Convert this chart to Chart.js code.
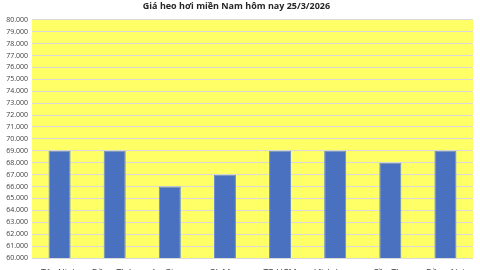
<!DOCTYPE html>
<html>
<head>
<meta charset="utf-8">
<script src="https://cdn.jsdelivr.net/npm/chart.js@4.4.1/dist/chart.umd.min.js"></script>
<style>
    html, body { margin: 0; padding: 0; background: #fff; }
    #wrap { width: 480px; height: 270px; }
</style>
</head>
<body>
<div id="wrap"><canvas id="price-chart" width="480" height="270"></canvas></div>
<script>
const chartTitle = 'Giá heo hơi miền Nam hôm nay 25/3/2026';
const provinces = ['Tây Ninh', 'Đồng Tháp', 'An Giang', 'Cà Mau', 'TP HCM', 'Vĩnh Long', 'Cần Thơ', 'Đồng Nai'];
const prices = [69000, 69000, 66000, 67000, 69000, 69000, 68000, 69000];
const yMin = 60000;
const yMax = 80000;
const yStep = 1000;

// nền vàng cho vùng vẽ
const plotBackground = {
    id: 'plotBackground',
    beforeDraw(chart) {
        const { ctx, chartArea } = chart;
        ctx.save();
        ctx.fillStyle = '#ffff66';
        ctx.fillRect(chartArea.left, chartArea.top, chartArea.right - chartArea.left, chartArea.bottom - chartArea.top);
        ctx.restore();
    }
};

const ctx = document.getElementById('price-chart').getContext('2d');
new Chart(ctx, {
    type: 'bar',
    data: {
        labels: provinces,
        datasets: [{
            label: 'Giá',
            data: prices,
            backgroundColor: '#4a70c0',
            borderColor: '#6b8ad0',
            borderWidth: 1,
            categoryPercentage: 1,
            barPercentage: 0.4
        }]
    },
    options: {
        responsive: false,
        animation: false,
        layout: {
            padding: { left: 0, right: 7, top: 0, bottom: 0 }
        },
        scales: {
            x: {
                grid: { display: false },
                border: { display: false },
                ticks: {
                    color: '#404040',
                    font: { family: 'Open Sans', size: 9 },
                    maxRotation: 0,
                    padding: 2
                },
                afterFit(axis) { axis.height = 12; }
            },
            y: {
                min: yMin,
                max: yMax,
                ticks: {
                    stepSize: yStep,
                    color: '#404040',
                    font: { family: 'Open Sans', size: 7 },
                    padding: 4,
                    callback: function(value) {
                        return (value / 1000).toFixed(3);
                    }
                },
                grid: { color: '#d9d9d9', drawTicks: false },
                border: { display: false },
                afterFit(axis) { axis.width = 32; }
            }
        },
        plugins: {
            legend: { display: false },
            tooltip: { enabled: false },
            title: {
                display: true,
                text: chartTitle,
                color: '#262626',
                font: { family: 'Open Sans', size: 9, weight: 'bold' },
                padding: { top: 1, bottom: 8 }
            }
        }
    },
    plugins: [plotBackground]
});
</script>
</body>
</html>
